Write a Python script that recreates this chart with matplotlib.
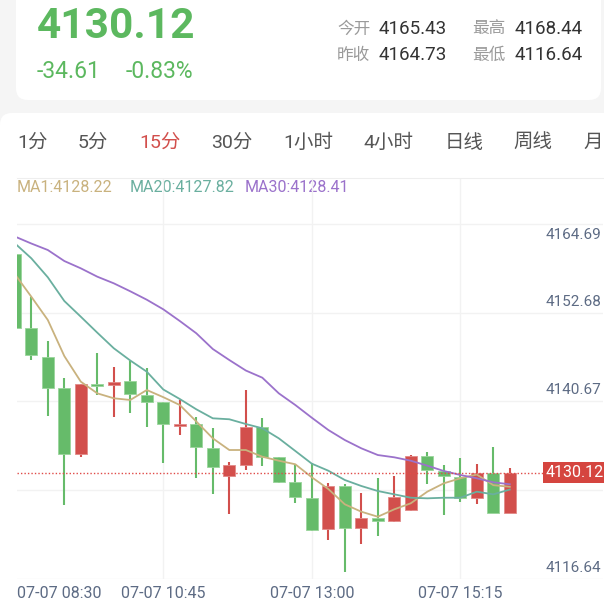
import numpy as np
import matplotlib
matplotlib.use('Agg')
import matplotlib.pyplot as plt
from matplotlib.patches import FancyBboxPatch
from matplotlib import transforms

# ---- data ----
opens = [4160.67, 4150.57, 4146.73, 4142.45, 4133.60, 4143.07, 4142.86, 4143.44, 4141.54, 4140.56,
         4137.35, 4137.58, 4134.33, 4130.62, 4132.07, 4137.21, 4133.11, 4129.73, 4127.64, 4123.41,
         4129.27, 4123.58, 4124.86, 4124.49, 4125.98, 4133.33, 4131.30, 4130.49, 4127.64, 4131.03,
         4125.61]
highs = [4162.20, 4154.85, 4148.85, 4143.81, 4143.10, 4147.19, 4145.38, 4146.15, 4145.24, 4140.60,
         4140.87, 4138.53, 4137.04, 4132.44, 4142.22, 4138.39, 4133.20, 4132.17, 4132.30, 4129.59,
         4129.46, 4128.24, 4130.27, 4130.62, 4133.40, 4133.87, 4132.07, 4133.06, 4132.14, 4134.55,
         4131.62]
lows = [4149.80, 4146.28, 4138.74, 4126.66, 4133.19, 4141.54, 4138.61, 4139.07, 4137.25, 4132.30,
        4136.13, 4130.35, 4128.10, 4125.48, 4131.39, 4131.94, 4129.60, 4126.97, 4123.14, 4121.92,
        4117.63, 4121.38, 4122.50, 4124.31, 4125.84, 4129.46, 4125.30, 4127.10, 4126.76, 4125.53,
        4125.53]
closes = [4150.57, 4146.96, 4142.53, 4133.60, 4142.99, 4142.80, 4143.26, 4141.64, 4140.64, 4137.58,
          4137.58, 4134.47, 4131.84, 4132.07, 4137.21, 4133.11, 4129.73, 4127.74, 4123.31, 4129.27,
          4123.58, 4124.86, 4124.49, 4127.74, 4133.33, 4131.39, 4130.62, 4127.64, 4130.95, 4125.61,
          4131.03]

ma1 = [4157.91, 4154.85, 4151.70, 4146.82, 4143.35, 4141.77, 4141.10, 4140.87, 4142.22, 4141.25,
       4140.19, 4137.96, 4135.68, 4134.10, 4134.10, 4133.19, 4132.65, 4132.17, 4130.41, 4128.82,
       4126.75, 4125.75, 4125.07, 4126.07, 4126.89, 4128.46, 4129.59, 4130.27, 4130.78, 4129.34,
       4129.12]
ma20 = [4162.08, 4160.05, 4157.48, 4154.27, 4152.14, 4149.98, 4147.87, 4146.21, 4144.70, 4142.29,
        4141.00, 4139.61, 4138.39, 4138.26, 4137.62, 4137.04, 4135.68, 4133.97, 4132.25, 4131.30,
        4130.04, 4129.23, 4128.55, 4128.10, 4127.64, 4127.56, 4127.64, 4127.64, 4128.46, 4128.10,
        4128.75]
ma30 = [4163.00, 4162.05, 4161.17, 4159.68, 4158.69, 4157.56, 4156.66, 4155.58, 4154.44, 4153.14,
        4151.56, 4149.90, 4147.77, 4146.28, 4144.86, 4143.89, 4141.77, 4140.19, 4138.47, 4136.81,
        4135.45, 4134.33, 4133.42, 4133.11, 4132.65, 4131.98, 4131.26, 4130.72, 4130.27, 4129.73,
        4129.46]

y_levels = [4164.69, 4152.68, 4140.67, 4128.65, 4116.64]
x_tick_idx = [0, 9, 18, 27]
x_tick_labels = ['07-07 08:30', '07-07 10:45', '07-07 13:00', '07-07 15:15']
last_price = '4130.12'

price = '4130.12'
change = '-34.61'
change_pct = '-0.83%'
stat_names = ['今开', '最高', '昨收', '最低']
stat_values = ['4165.43', '4168.44', '4164.73', '4116.64']
tabs = ['1分', '5分', '15分', '30分', '1小时', '4小时', '日线', '周线', '月']
active_tab = '15分'
ma_labels = ['MA1:4128.22', 'MA20:4127.82', 'MA30:4128.41']

GREEN = '#66bb6a'
RED = '#d24f4c'
MA_COLORS = ['#c9b27e', '#6aaf9f', '#9b72cb']
AXIS_TXT = '#5d6b84'
FONT = ['Roboto', 'Noto Sans CJK SC', 'DejaVu Sans']
plt.rcParams['font.family'] = FONT

fig = plt.figure(figsize=(6.04, 6.04), dpi=100)
fig.patch.set_facecolor('#f5f5f5')

# background layer in pixel coordinates
bg = fig.add_axes([0, 0, 1, 1])
bg.set_xlim(0, 604)
bg.set_ylim(604, 0)
bg.axis('off')
bg.add_patch(FancyBboxPatch((16, -20), 585, 120, boxstyle='round,pad=0,rounding_size=12',
                            fc='white', ec='none'))
bg.add_patch(FancyBboxPatch((0, 113), 640, 520, boxstyle='round,pad=0,rounding_size=12',
                            fc='white', ec='none'))

# header
bg.text(37, 27, price, fontsize=30.5, fontweight='bold', color='#5cb85f', va='center', ha='left')
bg.text(37, 72, change, fontsize=16.5, color='#5cb85f', va='center', ha='left')
bg.text(126, 72, change_pct, fontsize=16.5, color='#5cb85f', va='center', ha='left')
name_x = [337, 472, 337, 472]
val_x = [379, 515, 379, 515]
row_y = [29, 29, 55, 55]
for n, v, nx, vx, ry in zip(stat_names, stat_values, name_x, val_x, row_y):
    bg.text(nx, ry, n, fontsize=12, color='#9a9a9a', va='center', ha='left')
    bg.text(vx, ry, v, fontsize=13.5, color='#333333', va='center', ha='left')

# period tabs
tab_x = [17, 78, 139, 211, 283, 363, 445, 513, 583]
for t, tx in zip(tabs, tab_x):
    bg.text(tx, 143, t, fontsize=14, color=RED if t == active_tab else '#555555',
            va='center', ha='left')

# MA legend
for lab, lx, c in zip(ma_labels, [17, 130, 245], MA_COLORS):
    bg.text(lx, 187, lab, fontsize=11.5, color=c, va='center', ha='left')

# ---- candlestick chart ----
left_px, right_px, top_px, bot_px = 16.7, 603, 178, 579
ax = fig.add_axes([left_px / 604, (604 - bot_px) / 604,
                   (right_px - left_px) / 604, (bot_px - top_px) / 604])
ax.set_facecolor('none')
n = len(closes)
x = np.arange(n)
step = 16.5
ax.set_xlim((left_px - 14.8) / step, (right_px - 14.8) / step)
ax.set_ylim(y_levels[-1], y_levels[0] + (y_levels[0] - y_levels[-1]) / 355 * 46)

o = np.array(opens)
c = np.array(closes)
up = c >= o
cols = np.where(up, RED, GREEN)
edge = np.where(up, '#e28a88', '#9ad59b')
ax.vlines(x, lows, highs, colors=cols, lw=1.5, zorder=2)
ax.bar(x, np.maximum(np.abs(c - o), 0.15), bottom=np.minimum(o, c), width=0.74,
       color=cols, edgecolor=edge, lw=0.6, zorder=3)

for series, col in zip([ma1, ma20, ma30], MA_COLORS):
    ax.plot(x, series, color=col, lw=1.3, zorder=4)

ax.set_yticks(y_levels)
ax.set_xticks(x_tick_idx[1:])
ax.grid(True, color='#f2f2f2', lw=1, zorder=0)
ax.tick_params(length=0, labelleft=False, labelbottom=False)
for s in ['left', 'right', 'bottom']:
    ax.spines[s].set_visible(False)
ax.spines['top'].set_color('#eeeeee')

# y labels inside the plot on the right
for i, v in enumerate(y_levels):
    dy = -4 if i == 0 else 4
    tr = transforms.offset_copy(ax.get_yaxis_transform(), fig=fig, x=-2, y=dy, units='dots')
    ax.text(1.0, v, f'{v:.2f}', transform=tr, ha='right', va='top' if i == 0 else 'bottom',
            fontsize=11, color=AXIS_TXT, zorder=5)

# x labels
xtr = transforms.blended_transform_factory(ax.transData, ax.transAxes)
for i, lab in zip(x_tick_idx, x_tick_labels):
    if i < ax.get_xlim()[0] + 2:
        ax.text(0.0, -14 / 401, lab, transform=ax.transAxes, ha='left', va='center',
                fontsize=11.5, color=AXIS_TXT)
    else:
        ax.text(i, -14 / 401, lab, transform=xtr, ha='center', va='center',
                fontsize=11.5, color=AXIS_TXT)

# last price line and tag
ax.axhline(closes[-1], xmin=0, xmax=0.905, color='#e04b48', lw=1, ls=(0, (1, 1.5)), zorder=5)
tr = transforms.offset_copy(ax.get_yaxis_transform(), fig=fig, x=1, units='dots')
ax.text(1.0, closes[-1], last_price, transform=tr, ha='right', va='center', fontsize=11.5,
        color='white', zorder=6,
        bbox=dict(boxstyle='square,pad=0.18', fc='#d5453f', ec='none'))

fig.savefig('out.png', dpi=100, facecolor=fig.get_facecolor())
